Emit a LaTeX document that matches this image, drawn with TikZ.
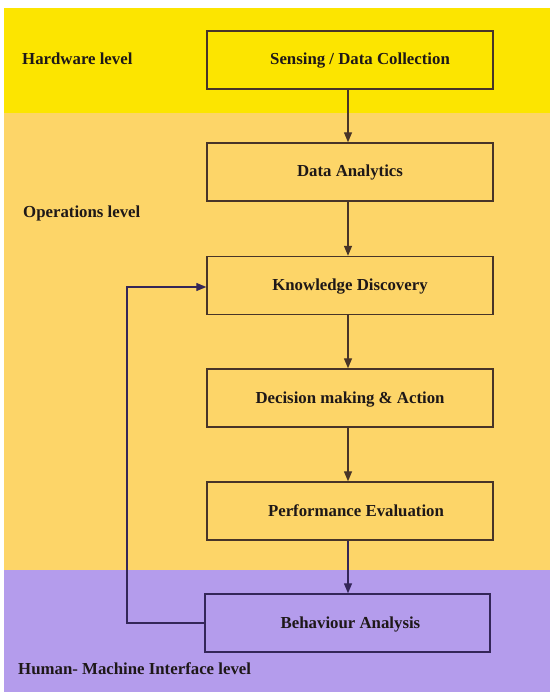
\documentclass[tikz,border=0pt]{standalone}
\usepackage{fontspec}
\setmainfont{Liberation Serif}
\usetikzlibrary{arrows.meta}
\definecolor{hwband}{RGB}{252,229,0}
\definecolor{opband}{RGB}{253,213,104}
\definecolor{hmiband}{RGB}{180,156,236}
\definecolor{edgebrown}{RGB}{72,52,40}
\definecolor{edgeviolet}{RGB}{52,38,88}
\definecolor{inkdark}{RGB}{30,24,24}
\tikzset{
  stagebox/.style={draw=edgebrown, line width=1.4pt, minimum width=286pt,
    minimum height=58pt, inner sep=0pt, text height=11pt, text depth=1pt,
    font=\fontsize{16.8}{20}\selectfont\bfseries, text=inkdark},
  levellabel/.style={anchor=west, inner sep=0pt, font=\fontsize{16.8}{20}\selectfont\bfseries,
    text=inkdark},
  flow/.style={draw=edgebrown, line width=1.3pt, -{Triangle[length=10pt,width=8pt]}},
}
\begin{document}
\begin{tikzpicture}[x=1pt,y=-1pt]
  \useasboundingbox (0,0) rectangle (550,692);
  % level bands
  \fill[white] (0,0) rectangle (550,692);
  \fill[hwband]  (4,8)   rectangle (550,113);
  \fill[opband]  (4,113) rectangle (550,570);
  \fill[hmiband] (4,570) rectangle (550,692);

  % level labels
  \node[levellabel] (hw)  at (22,59)  {Hardware level};
  \node[levellabel] (ops) at (23,213) {Operations level};
  \node[levellabel] (hmi) at (18,669) {Human- Machine Interface level};

  % processing stages
  \node[stagebox, fill=hwband] (sense) at (350,60)
    {\hspace*{20pt}Sensing / Data Collection};
  \node[stagebox, fill=opband] (analytics) at (350,172) {Data Analytics};
  \node[stagebox, fill=opband] (know)      at (350,285.5) {Knowledge Discovery};
  \node[stagebox, fill=opband] (decide)    at (350,398) {Decision making \& Action};
  \node[stagebox, fill=opband] (perf)      at (350,511) {\hspace*{12pt}Performance Evaluation};
  \node[stagebox, fill=hmiband, draw=edgeviolet, minimum width=285pt] (behav) at (347.5,623)
    {\hspace*{6pt}Behaviour Analysis};

  % forward flow
  \draw[flow] (sense.south -| 348,0) -- (analytics.north -| 348,0);
  \draw[flow] (analytics.south -| 348,0) -- (know.north -| 348,0);
  \draw[flow] (know.south -| 348,0) -- (decide.north -| 348,0);
  \draw[flow] (decide.south -| 348,0) -- (perf.north -| 348,0);
  \draw[flow, draw=edgeviolet] (perf.south -| 348,0) -- (behav.north -| 348,0);

  % feedback loop
  \coordinate (loopx) at (127,0);
  \draw[flow, draw=edgeviolet] (behav.west) -- (behav.west -| loopx)
    -- (loopx |- 0,287) -- (know.west |- 0,287);
\end{tikzpicture}
\end{document}
